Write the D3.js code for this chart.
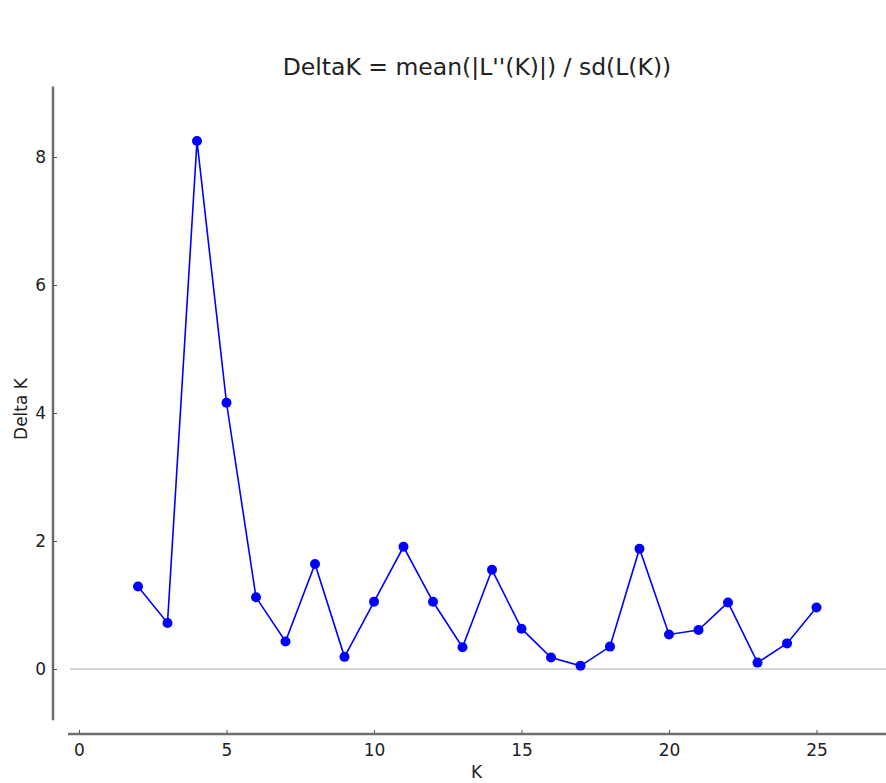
<!DOCTYPE html>
<html>
<head>
<meta charset="utf-8">
<script src="https://cdn.jsdelivr.net/npm/d3@7"></script>
<style>
  body { margin:0; background:#fff; }
  svg { font-family: "DejaVu Sans", sans-serif; }
</style>
</head>
<body>
<svg id="chart" width="886" height="783"></svg>
<script>
const kValues = [2,3,4,5,6,7,8,9,10,11,12,13,14,15,16,17,18,19,20,21,22,23,24,25];
const deltaK = [1.29,0.72,8.25,4.16,1.12,0.43,1.64,0.19,1.05,1.91,1.05,0.34,1.55,0.63,0.18,0.05,0.35,1.88,0.54,0.61,1.04,0.10,0.40,0.96];
const xTicks = [0,5,10,15,20,25];
const yTicks = [0,2,4,6,8];

const svg = d3.select("#chart");
const x = d3.scaleLinear().domain([0, 25]).range([79, 816.5]);
const y = d3.scaleLinear().domain([0, 8]).range([669, 157]);

// zero reference line
svg.append("line")
  .attr("x1", 70).attr("x2", 886)
  .attr("y1", y(0)).attr("y2", y(0))
  .attr("stroke", "#c8c8c8").attr("stroke-width", 1.5);

// y axis (spine offset to the left)
const yAxis = svg.append("g").attr("transform", "translate(53,0)")
  .call(d3.axisLeft(y).tickValues(yTicks).tickSizeInner(-4).tickSizeOuter(0));
yAxis.select(".domain").attr("d", `M0,${y(9.1)}V${y(-0.8)}`);

// x axis (spine offset below)
const xAxis = svg.append("g").attr("transform", "translate(0,734)")
  .call(d3.axisBottom(x).tickValues(xTicks).tickSizeInner(-4).tickSizeOuter(0).tickPadding(10));
xAxis.select(".domain").attr("d", "M68,0H886");

for (const ax of [xAxis, yAxis]) {
  ax.select(".domain").attr("stroke", "#6e6e6e").attr("stroke-width", 2.5);
  ax.selectAll(".tick line").attr("stroke", "#555").attr("stroke-width", 1);
  ax.selectAll(".tick text").attr("fill", "#222").style("font-size", "17px")
    .style("font-family", "'DejaVu Sans', sans-serif");
}
yAxis.selectAll(".tick text").attr("text-anchor", "end").attr("x", -7);

// line + markers
const pts = kValues.map((k, i) => [k, deltaK[i]]);
svg.append("path")
  .datum(pts)
  .attr("fill", "none").attr("stroke", "#0000ff").attr("stroke-width", 1.6)
  .attr("d", d3.line().x(d => x(d[0])).y(d => y(d[1])));
svg.append("g").selectAll("circle").data(pts).enter().append("circle")
  .attr("cx", d => x(d[0])).attr("cy", d => y(d[1])).attr("r", 5)
  .attr("fill", "#0000ff");

// texts
svg.append("text").attr("x", 477).attr("y", 75).attr("text-anchor", "middle")
  .style("font-size", "23.5px").attr("fill", "#222")
  .text("DeltaK = mean(|L''(K)|) / sd(L(K))");
svg.append("text").attr("x", 476.5).attr("y", 778).attr("text-anchor", "middle")
  .style("font-size", "17px").attr("fill", "#222").text("K");
svg.append("text").attr("transform", "translate(27,409) rotate(-90)").attr("text-anchor", "middle")
  .style("font-size", "17px").attr("fill", "#222").text("Delta K");
</script>
</body>
</html>
